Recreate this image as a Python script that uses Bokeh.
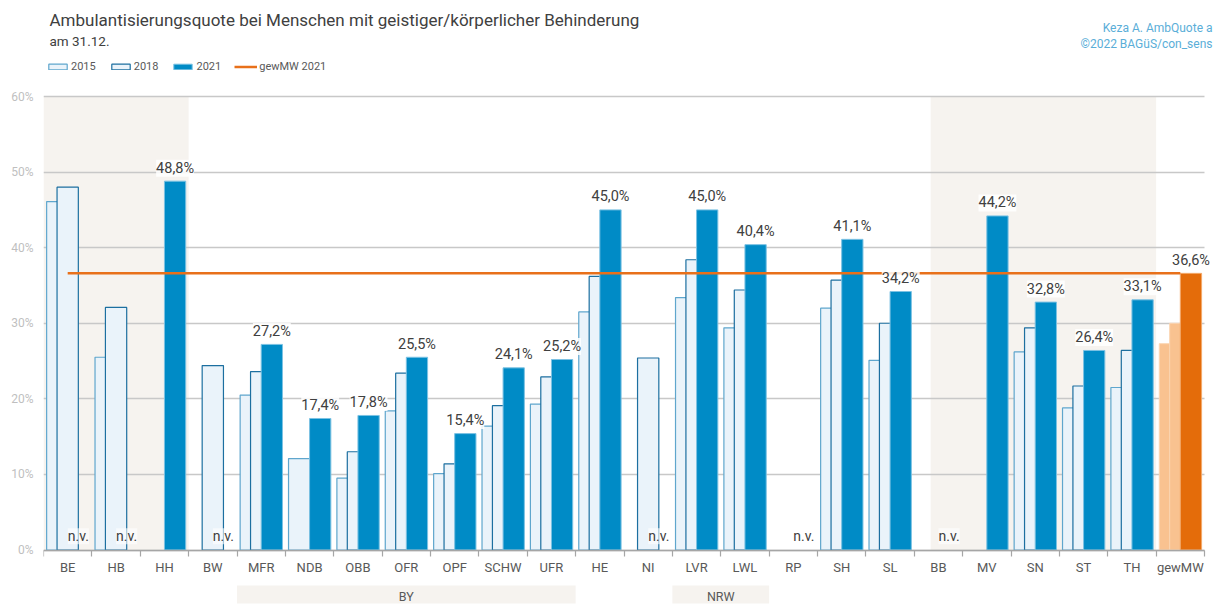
from bokeh.plotting import figure
from bokeh.models import (Range1d, FixedTicker, LinearAxis, ColumnDataSource, LabelSet,
                          Label, Legend, LegendItem, BoxAnnotation, PrintfTickFormatter, Grid)
from bokeh.core.properties import value
from bokeh.embed import file_html
from bokeh.resources import INLINE

# ---------------- data ----------------
categories = ["BE", "HB", "HH", "BW", "MFR", "NDB", "OBB", "OFR", "OPF", "SCHW", "UFR", "HE",
              "NI", "LVR", "LWL", "RP", "SH", "SL", "BB", "MV", "SN", "ST", "TH", "gewMW"]
v2015 = [46.1, 25.5, None, None, 20.5, 12.1, 9.5, 18.4, 10.1, 16.4, 19.3, 31.5,
         None, 33.4, 29.4, None, 32.0, 25.1, None, None, 26.2, 18.8, 21.5, 27.3]
v2018 = [48.0, 32.1, None, 24.4, 23.6, None, 13.0, 23.4, 11.4, 19.1, 22.9, 36.2,
         25.4, 38.4, 34.4, None, 35.7, 30.0, None, None, 29.4, 21.7, 26.4, 30.0]
v2021 = [None, None, 48.8, None, 27.2, 17.4, 17.8, 25.5, 15.4, 24.1, 25.2, 45.0,
         None, 45.0, 40.4, None, 41.1, 34.2, None, 44.2, 32.8, 26.4, 33.1, 36.6]
mean_category = "gewMW"
shaded_spans = [("BE", "HH"), ("BB", "TH")]
group_names = ["BY", "NRW"]
group_first = ["MFR", "LVR"]
group_last = ["UFR", "LWL"]
y_ticks = [0, 10, 20, 30, 40, 50, 60]
title_text = "Ambulantisierungsquote bei Menschen mit geistiger/körperlicher Behinderung"
subtitle_text = "am 31.12."
source_lines = ["Keza A. AmbQuote a", "\u00a92022 BAGüS/con_sens"]
na_text = "n.v."

# ---------------- layout / style ----------------
FONT = "Roboto"
SHADE = "#f6f3ef"
LIGHT = "#eaf3fa"
BLUE = "#008bc6"
ORANGE = "#e46c0a"
ORANGE_LIGHT = "#f9c290"
TXT = "#404040"
W = 0.44
OFF = {2015: -0.215, 2018: 0.0, 2021: 0.22}

CW, CH = 1219, 606          # canvas size
BL = 43                     # left border (y axis)
PX_L, PX_UNIT = 44.0, 48.375    # page x of first category edge, px per category
PY0, PY_PER = 550.5, 453.5 / 60  # page y of 0 %, px per percent
PAGE_OFF = 1


def X(px):
    return (px - PX_L) / PX_UNIT


def Y(py):
    return (PY0 - py) / PY_PER


n = len(categories)
frame_right_page = PAGE_OFF + CW
frame_bottom_page = PAGE_OFF + CH
p = figure(width=CW, height=CH, output_backend="svg", toolbar_location=None,
           x_range=Range1d(0, X(frame_right_page)),
           y_range=Range1d(Y(frame_bottom_page), Y(PAGE_OFF)),
           x_axis_type=None, y_axis_type=None,
           min_border_left=BL, min_border_right=0, min_border_top=0, min_border_bottom=0)
p.title.text = ""
p.outline_line_color = None
p.background_fill_color = "white"
p.border_fill_color = "white"

# shaded regions
sl, sr = [], []
for k, (a, b) in enumerate(shaded_spans):
    sl.append(categories.index(a) + (0.34 if k == 1 else 0.0))
    sr.append(categories.index(b) + 1)
p.quad(left=sl, right=sr, bottom=y_ticks[0], top=y_ticks[-1], fill_color=SHADE,
       line_color=None, level="image")

p.add_layout(Grid(dimension=1, ticker=FixedTicker(ticks=y_ticks), grid_line_color="#c8c8c8",
                  grid_line_width=1.5, cross_bounds=(0, n)))


def split(vals, year):
    main = dict(x=[], top=[])
    mean = dict(x=[], top=[])
    for i, (c, v) in enumerate(zip(categories, vals)):
        if v is None:
            continue
        d = mean if c == mean_category else main
        d["x"].append(i + 0.5 + OFF[year])
        d["top"].append(v)
    return ColumnDataSource(main), ColumnDataSource(mean)


s15, m15 = split(v2015, 2015)
s18, m18 = split(v2018, 2018)
s21, m21 = split(v2021, 2021)

r15 = p.vbar(x="x", top="top", width=W, bottom=0, source=s15, fill_color=LIGHT,
             line_color="#5fa6cd", line_width=1.2)
p.vbar(x="x", top="top", width=W, bottom=0, source=m15, fill_color=ORANGE_LIGHT,
       line_color="#fbd6b4", line_width=1)
r18 = p.vbar(x="x", top="top", width=W, bottom=0, source=s18, fill_color=LIGHT,
             line_color="#1c6fa0", line_width=1.2)
p.vbar(x="x", top="top", width=W, bottom=0, source=m18, fill_color=ORANGE_LIGHT,
       line_color="#fbd6b4", line_width=1)
r21 = p.vbar(x="x", top="top", width=W, bottom=0, source=s21, fill_color=BLUE,
             line_color="#7cc2e3", line_width=1)
p.vbar(x="x", top="top", width=W, bottom=0, source=m21, fill_color=ORANGE,
       line_color="#f3a96a", line_width=1)

mw = v2021[categories.index(mean_category)]
rl = p.line(x=[0.5, n - 0.5], y=[mw, mw], line_color="#e8701a", line_width=2.5)

# value labels
lab = dict(x=[], y=[], text=[])
na = dict(x=[], y=[], text=[])
for i, v in enumerate(v2021):
    if v is None:
        na["x"].append(i + 0.5 + OFF[2021]); na["y"].append(0); na["text"].append(na_text)
    else:
        lab["x"].append(i + 0.5 + OFF[2021]); lab["y"].append(v)
        lab["text"].append(f"{v:.1f}".replace(".", ",") + "%")

p.add_layout(LabelSet(x="x", y="y", text="text", source=ColumnDataSource(lab),
                      text_align="center", text_baseline="alphabetic", y_offset=8.5,
                      text_font=value(FONT), text_font_size="14.5px", text_color=TXT,
                      background_fill_color="white", background_fill_alpha=0.85))
p.add_layout(LabelSet(x="x", y="y", text="text", source=ColumnDataSource(na),
                      text_align="center", text_baseline="alphabetic", y_offset=8.8,
                      text_font=value(FONT), text_font_size="14px", text_color=TXT,
                      background_fill_color="white", background_fill_alpha=0.6))

# axes
yaxis = LinearAxis(ticker=FixedTicker(ticks=y_ticks), formatter=PrintfTickFormatter(format="%d%%"),
                   axis_line_color=None, major_tick_line_color=None, minor_tick_line_color=None,
                   major_tick_out=0, major_tick_in=0, major_label_standoff=10,
                   major_label_text_font=FONT, major_label_text_font_size="12px",
                   major_label_text_color="#bfbfbf")
p.add_layout(yaxis, "left")

centers = [i + 0.5 for i in range(n)]
xaxis = LinearAxis(ticker=FixedTicker(ticks=centers, minor_ticks=list(range(n + 1))),
                   major_label_overrides={c: name for c, name in zip(centers, categories)},
                   fixed_location=0, bounds=(0, n),
                   axis_line_color="#a6a6a6", axis_line_width=1.5,
                   major_tick_line_color=None, major_tick_out=6, major_tick_in=0,
                   minor_tick_line_color="#a6a6a6", minor_tick_in=0, minor_tick_out=6,
                   minor_tick_line_width=1.2, major_label_standoff=4,
                   major_label_text_font=FONT, major_label_text_font_size="13px",
                   major_label_text_color="#595959")
p.add_layout(xaxis, "below")

# group bands below axis
for g, a, b in zip(group_names, group_first, group_last):
    left = categories.index(a)
    right = categories.index(b) + 1
    p.add_layout(BoxAnnotation(left=left, right=right, top=Y(586), bottom=Y(604),
                               fill_color=SHADE, fill_alpha=1, line_color=None))
    p.add_layout(Label(x=(left + right) / 2, y=Y(596.5), text=g,
                       text_align="center", text_baseline="middle", text_font=FONT,
                       text_font_size="12.5px", text_color="#595959"))

# titles
p.add_layout(Label(x=X(50), y=Y(20), text=title_text, text_font=FONT, text_font_size="17px",
                   text_color=TXT, text_baseline="alphabetic"))
p.add_layout(Label(x=X(50), y=Y(41), text=subtitle_text, text_font=FONT,
                   text_font_size="13.5px", text_color=TXT, text_baseline="alphabetic"))
for k, t in enumerate(source_lines):
    p.add_layout(Label(x=X(1213), y=Y(28 + 16 * k), text=t, text_align="right",
                       text_font=FONT, text_font_size="12px", text_color="#5aaed8",
                       text_baseline="alphabetic"))

legend = Legend(items=[LegendItem(label="2015", renderers=[r15]),
                       LegendItem(label="2018", renderers=[r18]),
                       LegendItem(label="2021", renderers=[r21]),
                       LegendItem(label="gewMW 2021", renderers=[rl])],
                orientation="horizontal", location=(47 - PX_L, frame_bottom_page - 74),
                glyph_width=23, glyph_height=7, label_standoff=2, spacing=13, padding=0,
                margin=0, border_line_color=None, background_fill_alpha=0,
                label_text_font=FONT, label_text_font_size="11px",
                label_text_color="#595959", label_height=7)
p.add_layout(legend)

open("out.html", "w").write(file_html(p, INLINE))
